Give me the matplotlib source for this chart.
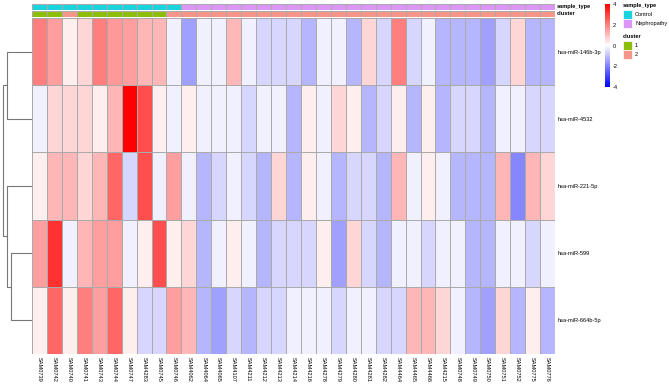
import numpy as np
import matplotlib
matplotlib.use('Agg')
import matplotlib.pyplot as plt
from matplotlib.colors import LinearSegmentedColormap, ListedColormap, Normalize
from matplotlib.cm import ScalarMappable
from matplotlib.patches import Rectangle

plt.rcParams['font.family'] = ['Liberation Sans', 'DejaVu Sans']
plt.rcParams['axes.unicode_minus'] = False

samples = ["SAM0739", "SAM0742", "SAM0740", "SAM0741", "SAM0743", "SAM0744", "SAM0747",
           "SAM4283", "SAM0745", "SAM0746", "SAM4062", "SAM4064", "SAM4065", "SAM4107",
           "SAM4211", "SAM4212", "SAM4213", "SAM4214", "SAM4216", "SAM4278", "SAM4279",
           "SAM4280", "SAM4281", "SAM4282", "SAM4464", "SAM4465", "SAM4466", "SAM4215",
           "SAM0748", "SAM0749", "SAM0750", "SAM0751", "SAM0752", "SAM0775", "SAM0776"]
mirnas = ["hsa-miR-146b-3p", "hsa-miR-4532", "hsa-miR-221-5p", "hsa-miR-599", "hsa-miR-664b-5p"]

sample_type = ["Control"] * 10 + ["Nephropathy"] * 25
cluster = [1, 1, 2, 1, 1, 1, 1, 1, 1] + [2] * 26

# scaled expression, one list per miRNA
mir146b = [2.0, 1.5, 0.25, 0.65, 2.0, 1.6, 1.5, 1.15, 1.15, -0.25, -1.5, -0.25, -0.25, 1.1,
           -0.25, -0.65, -0.65, -0.65, -1.15, -0.25, -0.25, -1.15, 0.65, -0.65, 2.0, -0.65,
           -0.25, -1.15, -1.15, -1.15, -1.5, -0.65, 0.65, -1.15, -1.15]
mir4532 = [-0.25, 0.65, 0.65, 0.65, 0.25, 1.15, 4.0, 2.75, 0.25, -0.25, 0.25, -0.25, -0.25,
           -0.25, -0.65, -0.25, -0.25, -1.15, 0.25, -0.25, 0.65, 0.25, -1.15, -0.65, 0.25,
           -1.15, 0.25, -1.15, -0.65, -0.65, -1.15, -0.25, -0.25, -0.65, -0.65]
mir221 = [0.25, 1.15, 1.15, 0.65, 1.15, 2.4, -0.65, 2.75, -0.25, 1.5, -0.25, -1.15, -0.65,
          -0.25, -0.65, -1.15, 0.65, -1.15, 0.25, -0.25, -1.15, -0.65, -0.65, -1.15, 1.15,
          -0.25, 0.25, -0.25, -1.15, -1.15, -1.15, 1.15, -1.9, 1.15, 0.65]
mir599 = [1.5, 3.2, -0.25, 1.15, 1.5, 1.5, -0.25, 0.25, 2.75, 0.25, 0.65, -1.15, -0.25, 0.25,
          -0.25, -1.15, -0.65, -0.65, -0.65, 0.25, -1.5, 0.65, -0.65, -1.15, -0.25, -0.25,
          -0.65, -0.25, -0.25, -1.15, -1.15, -0.25, -0.25, -0.65, -0.25]
mir664b = [0.25, 2.4, 0.25, 2.0, 1.5, 2.4, 0.25, -0.65, -0.65, 1.5, 1.15, -1.15, -1.5, -0.65,
           -1.15, -0.65, -0.65, -0.25, -0.25, -0.25, -0.65, -0.25, -0.25, -0.65, -0.65, 1.15,
           1.15, 0.65, -0.25, -1.15, -1.5, 0.65, -1.15, 0.25, -1.15]

# row dendrogram: (child a, child b, height); new nodes numbered from 5
merges = [(3, 4, 0.717), (0, 1, 0.843), (2, 5, 0.863), (6, 7, 1.0)]

type_colors = {"Control": "#1BD3DD", "Nephropathy": "#DC96F6"}
cluster_colors = {1: "#8DBE0B", 2: "#F6968B"}

W, H = 669, 386


def px(x0, y0, x1, y1):
    return [x0 / W, 1 - y1 / H, (x1 - x0) / W, (y1 - y0) / H]


fig = plt.figure(figsize=(W / 100, H / 100), dpi=100)
cmap = LinearSegmentedColormap.from_list("bwr_ph", ["blue", "white", "red"])
norm = Normalize(-4, 4)
grid_c = "#AAAAAA"
fs = 4.1

data = np.array([mir146b, mir4532, mir221, mir599, mir664b])
n_rows, n_cols = data.shape

# heatmap
ax = fig.add_axes(px(32, 18, 555, 354))
ax.pcolormesh(data, cmap=cmap, norm=norm, edgecolors=grid_c, linewidth=0.6)
ax.set_xlim(0, n_cols)
ax.set_ylim(n_rows, 0)
ax.set_xticks(np.arange(n_cols) + 0.5)
ax.set_xticklabels(samples, rotation=-90, fontsize=fs, va="top", ha="center")
ax.set_yticks(np.arange(n_rows) + 0.5)
ax.set_yticklabels(mirnas, fontsize=fs)
ax.yaxis.tick_right()
ax.tick_params(length=0, pad=2)
for s in ax.spines.values():
    s.set_visible(False)

# annotation bars
ann = [(sample_type, type_colors, (4, 9.5), "sample_type"),
       (cluster, cluster_colors, (11, 16.5), "cluster")]
for vals, cmapping, (y0, y1), name in ann:
    keys = list(cmapping.keys())
    idx = np.array([[keys.index(v) for v in vals]])
    a = fig.add_axes(px(32, y0, 555, y1))
    a.pcolormesh(idx, cmap=ListedColormap([cmapping[k] for k in keys]), vmin=-0.5,
                 vmax=len(keys) - 0.5, edgecolors=grid_c, linewidth=0.6)
    a.set_xlim(0, n_cols)
    a.set_axis_off()
    fig.text(557 / W, 1 - (y0 + y1) / 2 / H, name, fontsize=fs, fontweight="bold",
             va="center", ha="left")

# dendrogram
dax = fig.add_axes(px(0, 18, 32, 354))
pos = {i: i + 0.5 for i in range(n_rows)}
hgt = {i: 0.0 for i in range(n_rows)}
for k, (a, b, h) in enumerate(merges):
    dax.plot([hgt[a], h, h, hgt[b]], [pos[a], pos[a], pos[b], pos[b]],
             color="#777777", lw=0.8, solid_capstyle="butt")
    pos[n_rows + k] = (pos[a] + pos[b]) / 2
    hgt[n_rows + k] = h
dax.set_xlim(1.092, 0)
dax.set_ylim(n_rows, 0)
dax.set_axis_off()

# colour legend
cax = fig.add_axes(px(605, 4, 610, 87))
cb = fig.colorbar(ScalarMappable(norm=norm, cmap=cmap), cax=cax, ticks=[-4, -2, 0, 2, 4])
cb.outline.set_visible(False)
cax.tick_params(length=0, labelsize=fs, pad=2)

# annotation legends
def legend_block(title, items, y_title, y_first):
    fig.text(623 / W, 1 - y_title / H, title, fontsize=fs, fontweight="bold", va="center")
    for i, (lab, col) in enumerate(items):
        y = y_first + i * 9.3
        fig.patches.append(Rectangle((623 / W, 1 - (y + 9) / H), 9 / W, 9 / H,
                                     transform=fig.transFigure, facecolor=col,
                                     edgecolor="white", lw=0.5))
        fig.text(635 / W, 1 - (y + 4.5) / H, lab, fontsize=fs, va="center")


legend_block("sample_type", list(type_colors.items()), 6, 10)
legend_block("cluster", [(str(k), v) for k, v in cluster_colors.items()], 37, 41)

fig.savefig("out.png", dpi=100)
